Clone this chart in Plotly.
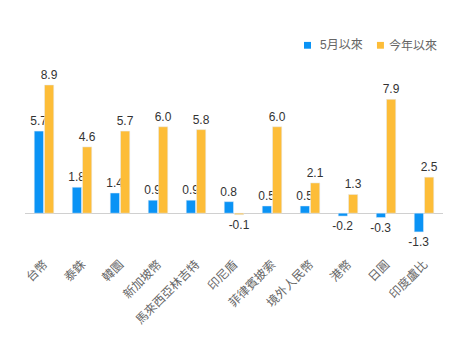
import plotly.graph_objects as go

categories = ["台幣", "泰銖", "韓圜", "新加坡幣", "馬來西亞林吉特", "印尼盾", "菲律賓披索", "境外人民幣", "港幣", "日圓", "印度盧比"]
since_may = [5.7, 1.8, 1.4, 0.9, 0.9, 0.8, 0.5, 0.5, -0.2, -0.3, -1.3]
ytd = [8.9, 4.6, 5.7, 6.0, 5.8, -0.1, 6.0, 2.1, 1.3, 7.9, 2.5]
series_names = ["5月以來", "今年以來"]
colors = ["#0A93F5", "#FDBD38"]

font_family = "Liberation Sans, Arial, Noto Sans CJK TC, sans-serif"

fig = go.Figure()
for name, vals, col in zip(series_names, [since_may, ytd], colors):
    fig.add_trace(go.Bar(
        x=categories, y=vals, name=name,
        marker_color=col,
        text=[f"{v:.1f}" for v in vals], textposition="outside",
        textfont=dict(size=12, color="#333333"), cliponaxis=False, constraintext="none",
    ))

# manual legend (compact, like the reference)
legend_pos = [(0.6675, 0.701), (0.842, 0.866)]
for (sx, tx), name, col in zip(legend_pos, series_names, colors):
    fig.add_shape(type="rect", xref="paper", yref="paper",
                  x0=sx, x1=sx + 0.0167, y0=1.137, y1=1.177,
                  fillcolor=col, line_width=0)
    fig.add_annotation(xref="paper", yref="paper", x=tx, y=1.157,
                       text=name, showarrow=False, xanchor="left", yanchor="middle",
                       font=dict(size=12, color="#666666"))

fig.update_layout(
    width=470, height=339,
    margin=dict(l=25, r=27, t=72, b=92),
    paper_bgcolor="white", plot_bgcolor="white",
    font=dict(family=font_family, size=12, color="#666666"),
    barmode="group", bargap=0.46, bargroupgap=0.1,
    showlegend=False,
    xaxis=dict(tickangle=-45, showgrid=False, showline=False, ticks="",
               ticklabelstandoff=12,
               tickfont=dict(size=12, color="#666666")),
    yaxis=dict(range=[-2, 9.8], showgrid=False, showticklabels=False, zeroline=True,
               zerolinecolor="#D0D0D0", zerolinewidth=1, showline=False),
)

fig.write_html("out.html")
